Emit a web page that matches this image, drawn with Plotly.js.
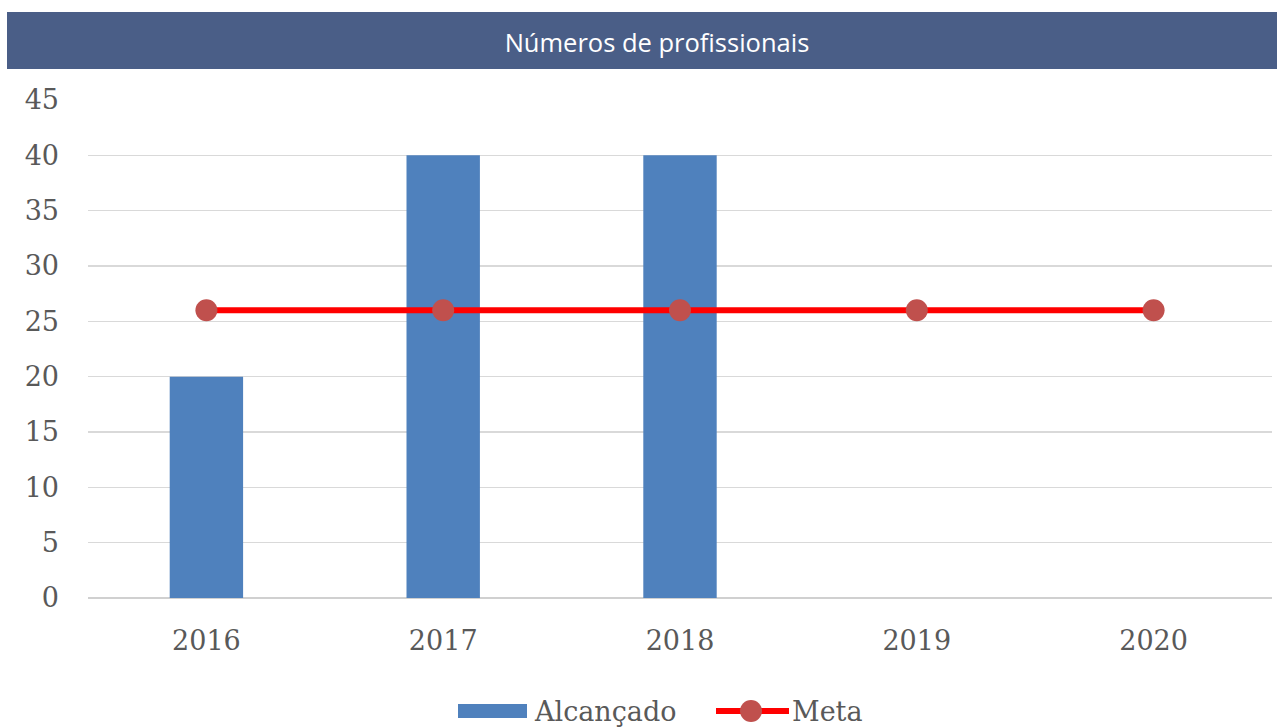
<!DOCTYPE html>
<html>
<head>
<meta charset="utf-8">
<script src="https://cdn.plot.ly/plotly-3.0.1.min.js"></script>
<style>html,body{margin:0;padding:0;background:#fff;}#chart{width:1277px;height:727px;}</style>
</head>
<body>
<div id="chart"></div>
<script>
const years = ['2016', '2017', '2018', '2019', '2020'];
const alcancado = [20, 40, 40, null, null];
const meta = [26, 26, 26, 26, 26];
const seriesNames = ['Alcançado', 'Meta'];
const chartTitle = 'Números de profissionais';
const yTicks = [0, 5, 10, 15, 20, 25, 30, 35, 40, 45];

const W = 1277, H = 727;
const L = 88, R = 5, T = 100, B = 129;
const pw = W - L - R, ph = H - T - B;
const px = x => (x - L) / pw;
const py = y => (H - B - y) / ph;

const serif = {family: 'DejaVu Serif', size: 27, color: '#595959'};

const traces = [
  {type: 'bar', x: years, y: alcancado, name: seriesNames[0], width: 0.31,
   marker: {color: '#4f81bd'}, showlegend: false},
  {type: 'scatter', mode: 'lines+markers', x: years, y: meta, name: seriesNames[1],
   line: {color: '#ff0000', width: 6}, marker: {color: '#c0504d', size: 22}, showlegend: false}
];

const layout = {
  width: W, height: H,
  margin: {l: L, r: R, t: T, b: B},
  paper_bgcolor: '#ffffff', plot_bgcolor: '#ffffff',
  title: {text: chartTitle, font: {family: 'Open Sans', size: 25.5, color: '#ffffff'},
          x: 657 / W, xanchor: 'center', y: 1 - 43 / H, yanchor: 'middle', xref: 'container', yref: 'container'},
  xaxis: {type: 'category', tickfont: serif, showgrid: false, zeroline: false, showline: false,
          ticks: '', ticklabelstandoff: 24},
  yaxis: {range: [0, 45], tickvals: yTicks, tickfont: serif, showgrid: true, gridcolor: '#d9d9d9',
          gridwidth: 1.5, zeroline: true, zerolinecolor: '#d0d0d0', zerolinewidth: 2, showline: false,
          ticks: '', ticklabelstandoff: 28},
  shapes: [
    {type: 'rect', xref: 'paper', yref: 'paper', x0: px(7), x1: px(1277), y0: py(69), y1: py(12),
     fillcolor: '#4a5e87', line: {width: 0}, layer: 'below'},
    {type: 'rect', xref: 'paper', yref: 'paper', x0: px(458), x1: px(527), y0: py(718), y1: py(704),
     fillcolor: '#4f81bd', line: {width: 0}},
    {type: 'line', xref: 'paper', yref: 'paper', x0: px(716), x1: px(789), y0: py(711), y1: py(711),
     line: {color: '#ff0000', width: 6}},
    {type: 'circle', xref: 'paper', yref: 'paper', xsizemode: 'pixel', ysizemode: 'pixel',
     xanchor: px(751), yanchor: py(711), x0: -11, x1: 11, y0: -11, y1: 11,
     fillcolor: '#c0504d', line: {width: 0}}
  ],
  annotations: [
    {xref: 'paper', yref: 'paper', x: px(532), y: py(711), xanchor: 'left', yanchor: 'middle',
     text: seriesNames[0], showarrow: false, font: serif},
    {xref: 'paper', yref: 'paper', x: px(790), y: py(711), xanchor: 'left', yanchor: 'middle',
     text: seriesNames[1], showarrow: false, font: serif}
  ]
};

Plotly.newPlot('chart', traces, layout, {displayModeBar: false, staticPlot: true});
</script>
</body>
</html>
